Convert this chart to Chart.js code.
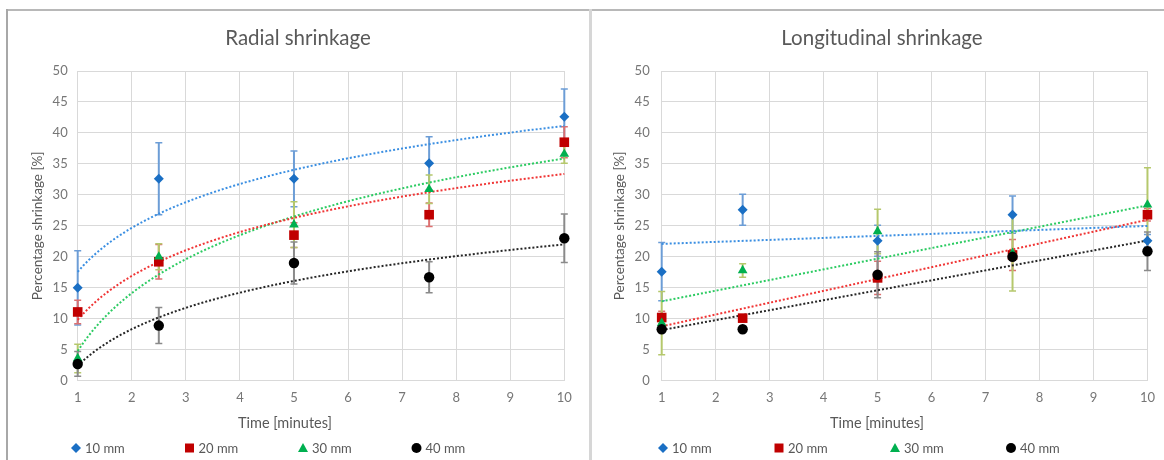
<!DOCTYPE html>
<html><head><meta charset="utf-8">
<script src="https://cdn.jsdelivr.net/npm/chart.js@4.4.1/dist/chart.umd.min.js"></script>
<style>
html,body{margin:0;padding:0;background:#fff;width:1164px;height:460px;overflow:hidden;}
#wrap{position:relative;width:1164px;height:460px;}
.panel{position:absolute;top:0;height:460px;}
#p1{left:0;width:590px;}
#p2{left:592px;width:572px;}
.frame-top{position:absolute;left:6px;top:9px;width:1158px;height:2px;background:#b8b8b8;}
.frame-left{position:absolute;left:6px;top:9px;width:2px;height:451px;background:#a8a8a8;}
.sep{position:absolute;left:589px;top:9px;width:3px;height:451px;background:#d6d6d6;}
</style>
</head><body>
<div id="wrap">
  <div class="panel" id="p1"><canvas id="c1" width="590" height="460"></canvas></div>
  <div class="panel" id="p2"><canvas id="c2" width="572" height="460"></canvas></div>
  <div class="frame-top"></div><div class="frame-left"></div><div class="sep"></div>
</div>
<script>
// ---------- DATA ----------
const times = [1, 2.5, 5, 7.5, 10];
const seriesNames = ['10 mm', '20 mm', '30 mm', '40 mm'];

const radial10 = [15.0, 32.6, 32.6, 35.1, 42.6];
const radial20 = [11.1, 19.2, 23.5, 26.8, 38.5];
const radial30 = [3.6, 20.0, 25.2, 30.9, 36.6];
const radial40 = [2.7, 8.9, 19.0, 16.7, 23.0];
const radial10Err = [6.0, 5.8, 4.5, 4.3, 4.5];
const radial20Err = [1.9, 2.8, 2.0, 1.9, 2.5];
const radial30Err = [2.3, 2.1, 3.7, 2.3, 1.5];
const radial40Err = [2.0, 2.9, 3.4, 2.5, 3.9];

const long10 = [17.6, 27.6, 22.6, 26.8, 22.6];
const long20 = [10.2, 10.1, 16.6, 20.3, 26.8];
const long30 = [9.3, 17.8, 24.1, 20.6, 28.4];
const long40 = [8.3, 8.3, 17.1, 20.0, 20.9];
const long10Err = [4.7, 2.5, 2.5, 3.0, 1.0];
const long20Err = [1.0, 0.5, 2.7, 2.5, 1.0];
const long30Err = [5.1, 1.1, 3.6, 6.1, 6.0];
const long40Err = [0.5, 0.5, 3.7, 0.5, 3.1];

// ---------- STYLE ----------
const markerColors = ['#1a6fc4', '#c00000', '#00b050', '#000000'];
const trendColors  = ['#3b8fe2', '#f03535', '#2ccb62', '#262626'];
const errColors    = ['#6c9dd6', '#dd7070', '#b5c86c', '#8a8a8a'];
const pointStyles  = ['rectRot', 'rect', 'triangle', 'circle'];
const pointRadii   = [5, 6.8, 5.6, 5.2];

// ---------- FITS (least squares, like spreadsheet trendlines) ----------
function fitLinear(xs, ys) {
  const n = xs.length;
  const mx = xs.reduce((a, b) => a + b, 0) / n;
  const my = ys.reduce((a, b) => a + b, 0) / n;
  let sxx = 0, sxy = 0;
  for (let i = 0; i < n; i++) { sxx += (xs[i] - mx) ** 2; sxy += (xs[i] - mx) * (ys[i] - my); }
  const a = sxy / sxx;
  return { a, b: my - a * mx };
}
function trendPoints(kind, xs, ys) {
  const pts = [];
  if (kind === 'log') {
    const f = fitLinear(xs.map(Math.log), ys);
    for (let x = xs[0]; x <= xs[xs.length - 1] + 1e-9; x += 0.1) pts.push({ x, y: f.a * Math.log(x) + f.b });
  } else {
    const f = fitLinear(xs, ys);
    [xs[0], xs[xs.length - 1]].forEach(x => pts.push({ x, y: f.a * x + f.b }));
  }
  return pts;
}

// ---------- PLUGINS ----------
const errorBarPlugin = {
  id: 'errBars',
  beforeDatasetsDraw(chart) {
    const { ctx } = chart, xs = chart.scales.x, ys = chart.scales.y;
    ctx.save();
    chart.data.datasets.forEach(ds => {
      if (!ds.errorBars) return;
      ctx.strokeStyle = ds.errorColor;
      ds.data.forEach((p, i) => {
        const e = ds.errorBars[i];
        const px = xs.getPixelForValue(p.x);
        const top = ys.getPixelForValue(p.y + e), bot = ys.getPixelForValue(Math.max(0, p.y - e));
        ctx.lineWidth = 2;
        ctx.beginPath(); ctx.moveTo(px, top); ctx.lineTo(px, bot); ctx.stroke();
        ctx.lineWidth = 1.5;
        ctx.beginPath();
        ctx.moveTo(px - 3.5, top); ctx.lineTo(px + 3.5, top);
        ctx.moveTo(px - 3.5, bot); ctx.lineTo(px + 3.5, bot);
        ctx.stroke();
      });
    });
    ctx.restore();
  }
};

function drawMarker(ctx, style, cx, cy, r) {
  ctx.beginPath();
  if (style === 'rectRot') {
    ctx.moveTo(cx, cy - r); ctx.lineTo(cx + r, cy); ctx.lineTo(cx, cy + r); ctx.lineTo(cx - r, cy);
  } else if (style === 'rect') {
    ctx.rect(cx - r, cy - r, 2 * r, 2 * r);
  } else if (style === 'triangle') {
    ctx.moveTo(cx, cy - r); ctx.lineTo(cx + r, cy + r * 0.8); ctx.lineTo(cx - r, cy + r * 0.8);
  } else {
    ctx.arc(cx, cy, r, 0, Math.PI * 2);
  }
  ctx.closePath(); ctx.fill();
}

const panelTextPlugin = {
  id: 'panelText',
  afterDraw(chart, args, o) {
    const ctx = chart.ctx, ca = chart.chartArea;
    ctx.save();
    ctx.fillStyle = '#595959';
    ctx.textAlign = 'center';
    ctx.textBaseline = 'alphabetic';
    ctx.font = '20.5px Lato';
    ctx.fillText(o.title, o.titleX, 45);
    ctx.font = '14.5px Lato';
    ctx.fillText(o.xTitle, o.xTitleX, 428);
    ctx.save();
    ctx.translate(o.yTitleX, (ca.top + ca.bottom) / 2);
    ctx.rotate(-Math.PI / 2);
    ctx.textBaseline = 'middle';
    ctx.font = '13.5px Lato';
    ctx.fillText(o.yTitle, 0, 0);
    ctx.restore();
    // legend
    ctx.font = '13px Lato';
    ctx.textAlign = 'left';
    ctx.textBaseline = 'middle';
    chart.data.datasets.filter(d => d.isSeries).forEach((d, i) => {
      const cx = o.legendX + i * o.legendStep, cy = 448;
      ctx.fillStyle = d.backgroundColor;
      drawMarker(ctx, d.pointStyle, cx, cy, d.pointStyle === 'rect' ? 4.5 : 5);
      ctx.fillStyle = '#595959';
      ctx.fillText(d.label, cx + 9, cy + 1);
    });
    ctx.restore();
  }
};

// ---------- BUILD ----------
Chart.defaults.font.family = 'Lato, "Open Sans", sans-serif';

function buildChart(canvasId, cfg) {
  const datasets = [];
  cfg.series.forEach((vals, i) => {
    datasets.push({
      label: seriesNames[i],
      isSeries: true,
      data: times.map((t, k) => ({ x: t, y: vals[k] })),
      errorBars: cfg.errors[i],
      errorColor: errColors[i],
      backgroundColor: markerColors[i],
      borderColor: markerColors[i],
      borderWidth: 0,
      pointStyle: pointStyles[i],
      pointRadius: pointRadii[i],
      showLine: false,
      clip: false,
      order: 4 - i
    });
  });
  cfg.series.forEach((vals, i) => {
    datasets.push({
      label: seriesNames[i] + ' trend',
      data: trendPoints(cfg.trend, times, vals),
      showLine: true,
      borderColor: trendColors[i],
      borderWidth: 2,
      borderDash: [2, 2],
      pointRadius: 0,
      fill: false,
      tension: 0,
      clip: false,
      order: 10 + i
    });
  });
  const tickColor = '#767676', gridColor = '#d9d9d9';
  return new Chart(document.getElementById(canvasId), {
    type: 'scatter',
    data: { datasets },
    options: {
      responsive: false,
      animation: false,
      devicePixelRatio: 1,
      layout: { padding: { left: 8, right: cfg.padRight, top: 71, bottom: 49.3 } },
      plugins: {
        legend: { display: false },
        title: { display: false },
        tooltip: { enabled: false },
        panelText: cfg.text
      },
      scales: {
        x: {
          type: 'linear', min: 1, max: 10,
          ticks: { stepSize: 1, padding: 9, color: tickColor, font: { size: 13 } },
          grid: { color: gridColor, drawTicks: false },
          border: { color: gridColor },
          afterFit(s) { s.height = 30; }
        },
        y: {
          min: 0, max: 50,
          ticks: { stepSize: 5, padding: cfg.yTickPad, color: tickColor, font: { size: 13 } },
          grid: { color: gridColor, drawTicks: false },
          border: { color: gridColor },
          afterFit(s) { s.width = cfg.yWidth; }
        }
      }
    },
    plugins: [errorBarPlugin, panelTextPlugin]
  });
}

buildChart('c1', {
  series: [radial10, radial20, radial30, radial40],
  errors: [radial10Err, radial20Err, radial30Err, radial40Err],
  trend: 'log',
  padRight: 25.7,
  yWidth: 69.7,
  yTickPad: 10,
  text: { title: 'Radial shrinkage', titleX: 298, xTitle: 'Time [minutes]', xTitleX: 285,
          yTitle: 'Percentage shrinkage [%]', yTitleX: 38, legendX: 76, legendStep: 113.5 }
});
buildChart('c2', {
  series: [long10, long20, long30, long40],
  errors: [long10Err, long20Err, long30Err, long40Err],
  trend: 'linear',
  padRight: 15.7,
  yWidth: 61.7,
  yTickPad: 12,
  text: { title: 'Longitudinal shrinkage', titleX: 290, xTitle: 'Time [minutes]', xTitleX: 285,
          yTitle: 'Percentage shrinkage [%]', yTitleX: 28, legendX: 71, legendStep: 116 }
});
</script>
</body></html>
